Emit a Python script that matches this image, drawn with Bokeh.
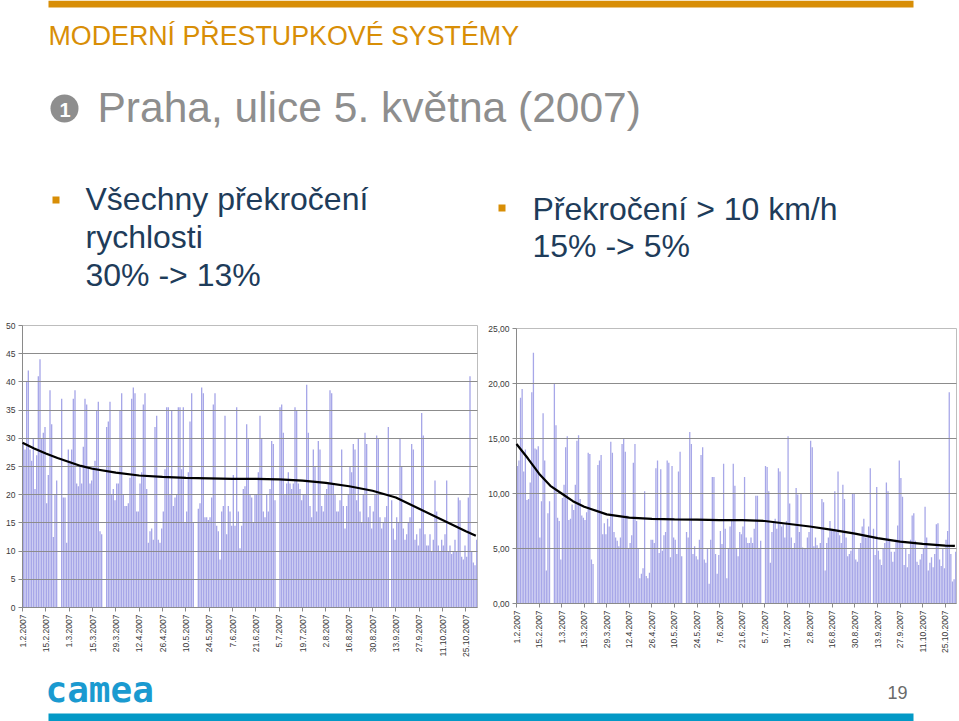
import numpy as np
from bokeh.plotting import figure
from bokeh.layouts import column, row
from bokeh.models import Range1d, FixedTicker
from bokeh.core.properties import value
from bokeh.embed import file_html
from bokeh.resources import INLINE

# ---------------- data ----------------
date_labels = ["1.2.2007", "15.2.2007", "1.3.2007", "15.3.2007", "29.3.2007",
               "12.4.2007", "26.4.2007", "10.5.2007", "24.5.2007", "7.6.2007",
               "21.6.2007", "5.7.2007", "19.7.2007", "2.8.2007", "16.8.2007",
               "30.8.2007", "13.9.2007", "27.9.2007", "11.10.2007", "25.10.2007"]
tick_days = [0, 14, 28, 42, 56, 70, 84, 98, 112, 126, 140, 154, 168, 182, 196,
             210, 224, 238, 252, 266]

# daily share of all speeding vehicles (%), 1.2.2007 - 31.10.2007
all_speeding = [
    29, 28, 40, 42, 28, 26, 30,
    21, 27, 41, 44, 30, 31, 32,
    18.5, 23.5, 38.5, 32.5, 12.5, 20, 22.5,
    0, 0, 37, 19.5, 19.5, 11.5, 28,
    26, 28, 37, 38.5, 22, 21.5, 25,
    22, 28.5, 37, 36, 25, 22, 22.5,
    25, 26, 35, 36.5, 13.5, 13, 0,
    0, 32, 33, 36.5, 20, 21, 19,
    22, 22, 35, 38, 20, 18, 18,
    18.5, 23, 37, 39, 38, 17, 17,
    22, 24, 36, 38, 21, 11.5, 13.5,
    14, 12, 32, 34, 12, 11.5, 14,
    17, 24.5, 35.5, 35.5, 20, 35, 18,
    19.5, 20, 35.5, 35.5, 24.5, 35.5, 15,
    17, 24, 33, 38, 15, 0, 0,
    17.5, 18.5, 39, 38, 16, 16, 15.5,
    16, 19.5, 36, 38, 14.5, 13.5, 8.5,
    17, 18, 34, 13, 18, 17, 14.5,
    23.5, 14.5, 35.5, 17, 10.5, 14.5, 21,
    21.5, 32.5, 30, 20, 19.5, 15, 20,
    20, 24, 34, 30, 17, 16, 20,
    17, 21, 29.5, 29, 19, 0, 0,
    35.5, 36, 31, 20, 22, 24, 22,
    21, 22, 35.5, 35, 22, 21, 19,
    20, 20, 39.5, 31, 18, 16, 28,
    25, 17, 29.5, 28, 18, 17, 20,
    21, 22, 38.5, 38, 22, 20, 17,
    17, 19, 28, 18, 14, 18, 20,
    25, 24, 29, 28, 19, 30, 17,
    15, 20, 31, 29, 16, 18, 14,
    17, 20, 30.5, 30, 16, 14, 15,
    16, 18, 32, 0, 19, 14, 12,
    16, 15, 30, 25, 14, 12, 13,
    15, 16, 29, 28, 12, 13, 11,
    14, 34.5, 30.5, 13, 11, 11, 13,
    10, 12, 22.5, 17, 11, 10, 12,
    11, 13, 22.5, 10, 11, 9.5, 10,
    12, 10, 19.5, 19, 9, 8.5, 11,
    9, 19.5, 41, 10, 8, 7.5, 12,
]

# daily share of vehicles exceeding the limit by > 10 km/h (%)
over_10 = [
    12.5, 13, 18.7, 19.5, 12, 14, 9.4,
    9.5, 11, 19.2, 22.8, 14.1, 14, 14.3,
    6, 9.3, 17.3, 13, 3, 8.2, 9.3,
    0, 0, 20, 16.2, 7.8, 7.5, 4,
    9.6, 10.8, 14.2, 15.2, 7.6, 7.7, 9,
    8.5, 10.8, 14.8, 15.3, 9.5, 8, 7.8,
    7.6, 8.3, 13.7, 13.6, 4, 3.6, 0,
    0, 12.6, 13, 13.5, 6.3, 7.3, 6.3,
    7.7, 7, 14.7, 13.7, 6.5, 6, 5.7,
    5.2, 6, 14.5, 15, 13.8, 8, 5,
    5.5, 6.2, 12.8, 14.5, 7.5, 5, 2.3,
    2.7, 3.2, 10.2, 2.5, 2.3, 2.8, 5.8,
    5.8, 5.5, 12.3, 13, 4.6, 12.2, 4.8,
    6.2, 6.5, 13, 12.8, 4.2, 12.5, 6,
    5.8, 4.5, 12, 13.8, 4.3, 0, 0,
    6.5, 6, 15.6, 14.5, 4.5, 5.2, 4.3,
    4, 5.8, 13.5, 14.2, 4, 3.7, 5,
    1.8, 5.8, 11.5, 11.5, 4.5, 2.7, 4.4,
    6.6, 5.4, 12.7, 6.8, 2.3, 5, 7,
    7.5, 12.7, 10.7, 5, 4.3, 6.5, 6.3,
    7, 11.5, 6, 5.5, 5.5, 6, 5.5,
    6.8, 9.8, 9.8, 5, 5.7, 0, 0,
    12.5, 12.4, 10.2, 3.7, 6.5, 7.5, 7.7,
    6.8, 12.3, 12, 7, 7.2, 6, 7.5,
    15.2, 9.1, 6, 5, 5.5, 10.5, 9.9,
    6.5, 10, 5.1, 5, 5, 6, 6.5,
    14.8, 14.2, 5.2, 6, 5.3, 5, 5.5,
    9.5, 9.2, 3, 5.5, 6, 7.5, 6.6,
    6.6, 10.2, 6.5, 12, 6.2, 5.5, 10.8,
    9.5, 6, 4.3, 4.5, 4.8, 10, 10,
    4, 3.8, 5, 5.5, 7, 7.7, 6,
    6, 7, 12.3, 0, 6.8, 4.4, 10.6,
    4.8, 4, 3.5, 5, 5.5, 11, 10.2,
    5.8, 4.7, 3.8, 4.7, 5.8, 7.1, 13,
    11.4, 9.7, 3.5, 5, 3.3, 4.5, 5.8,
    8, 8.2, 5.7, 3.8, 3.5, 4, 4.5,
    5, 8.8, 6, 3, 3.7, 4.2, 3.3,
    4.5, 7.2, 7.3, 4, 3.4, 5, 3.2,
    5.8, 6.6, 19.2, 4.5, 2, 2.2, 4.7,
]

trend_days = [0, 7, 14, 21, 28, 35, 42, 56, 70, 84, 98, 112, 126, 140, 154,
              168, 182, 196, 210, 224, 238, 252, 266, 272]
trend_all = [29.2, 28.2, 27.3, 26.5, 25.8, 25.1, 24.6, 23.9, 23.4, 23.15, 23.0,
             22.9, 22.8, 22.8, 22.7, 22.5, 22.1, 21.5, 20.7, 19.5, 17.5, 15.5,
             13.5, 12.7]
trend_over10 = [14.5, 13.2, 11.8, 10.7, 10.0, 9.3, 8.8, 8.1, 7.8, 7.7, 7.65,
                7.62, 7.58, 7.58, 7.5, 7.25, 7.0, 6.7, 6.35, 5.95, 5.62, 5.42,
                5.27, 5.23]

assert len(all_speeding) == 273 and len(over_10) == 273

# ---------------- styles ----------------
FONT = "Liberation Sans"
ORANGE = "#d88e06"
GREY_T = "#8e8e8e"
NAVY = "#1e3c5a"
BAR = "#a7a7e8"
GRID = "#8c8c8c"


def bare(width, height, y0, y1):
    f = figure(width=width, height=height, output_backend="svg",
               toolbar_location=None, x_range=Range1d(0, width),
               y_range=Range1d(y1, y0), x_axis_type=None, y_axis_type=None,
               min_border=0)
    f.grid.visible = False
    f.outline_line_color = None
    return f


def chart(width, height, vals, trend, ymax, labels, borders):
    lft, rgt, top, bot = borders
    p = figure(width=width, height=height, output_backend="svg",
               toolbar_location=None, x_range=Range1d(0, 273),
               y_range=Range1d(0, ymax), min_border_left=lft,
               min_border_right=rgt, min_border_top=top,
               min_border_bottom=bot)
    days = np.arange(len(vals)) + 0.5
    p.vbar(x=days, top=vals, width=0.8, fill_color=BAR, line_color=None)
    p.line(trend_days, trend, line_color="black", line_width=2.2,
           level="overlay")
    p.outline_line_color = "#bdbdbd"
    p.xgrid.visible = False
    p.ygrid.grid_line_color = GRID
    p.ygrid.level = "annotation"
    p.xaxis.ticker = FixedTicker(ticks=tick_days)
    p.xaxis.major_label_overrides = {d: s for d, s in zip(tick_days, date_labels)}
    p.xaxis.major_label_orientation = np.pi / 2
    yt = list(range(0, ymax + 1, 5))
    p.yaxis.ticker = FixedTicker(ticks=yt)
    p.yaxis.major_label_overrides = {t: l for t, l in zip(yt, labels)}
    for ax in (p.xaxis[0], p.yaxis[0]):
        ax.axis_line_color = "#8a8a8a"
        ax.major_tick_line_color = "#8a8a8a"
        ax.major_tick_out = 4
        ax.major_tick_in = 0
        ax.minor_tick_line_color = None
        ax.major_label_standoff = 3
        ax.major_label_text_font = FONT
        ax.major_label_text_font_size = "8.5px"
        ax.major_label_text_color = "#3a3a3a"
    return p


# ---------------- header ----------------
h = bare(959, 315, 0, 315)
h.quad(left=48, right=913, top=0, bottom=7, fill_color=ORANGE, line_color=None)
h.text(x=[48], y=[35], text=["MODERNÍ PŘESTUPKOVÉ SYSTÉMY"],
       text_font=value(FONT), text_font_size="26.8px", text_color=ORANGE,
       text_baseline="alphabetic")
h.ellipse(x=[64], y=[108], width=28, height=28, fill_color=GREY_T,
          line_color=None)
h.text(x=[64.5], y=[109], text=["1"], text_font=value(FONT),
       text_font_size="20px", text_font_style="bold", text_color="#ffffff",
       text_align="center", text_baseline="middle")
h.text(x=[97], y=[107], text=["Praha, ulice 5. května (2007)"],
       text_font=value(FONT), text_font_size="42.5px", text_color=GREY_T,
       text_baseline="alphabetic")
h.scatter(x=[55.5, 501.5], y=[199.5, 207.5], size=7, marker="square",
          fill_color=ORANGE, line_color=None)
h.text(x=[85, 85, 85], y=[198, 236, 274],
       text=["Všechny překročení", "rychlosti", "30% -> 13%"],
       text_font=value(FONT), text_font_size="32px", text_color=NAVY,
       text_baseline="alphabetic")
h.text(x=[532, 532], y=[208, 245],
       text=["Překročení > 10 km/h", "15% -> 5%"],
       text_font=value(FONT), text_font_size="32px", text_color=NAVY,
       text_baseline="alphabetic")

# ---------------- charts ----------------
left = chart(480, 345, all_speeding, trend_all, 50,
             [str(t) for t in range(0, 51, 5)], (22, 3, 10, 53))
right = chart(479, 345, over_10, trend_over10, 25,
              ["%d,00" % t for t in range(0, 26, 5)], (36, 3, 13, 57))

# ---------------- footer ----------------
f = bare(959, 61, 660, 721)
f.text(x=[45], y=[689], text=["camea"], text_font=value("DejaVu Sans Mono"),
       text_font_size="36px", text_font_style="bold", text_color="#1a9ad0",
       text_baseline="alphabetic")
f.text(x=[907], y=[692], text=["19"], text_font=value(FONT),
       text_font_size="18px", text_color="#6a6a6a", text_align="right",
       text_baseline="alphabetic")
f.quad(left=48, right=913, top=713, bottom=721, fill_color="#0399c6",
       line_color=None)

charts = row(column(left, spacing=0), column(right, spacing=0), spacing=0)
page = column(h, charts, f, spacing=0)

open("out.html", "w").write(file_html(page, INLINE))
